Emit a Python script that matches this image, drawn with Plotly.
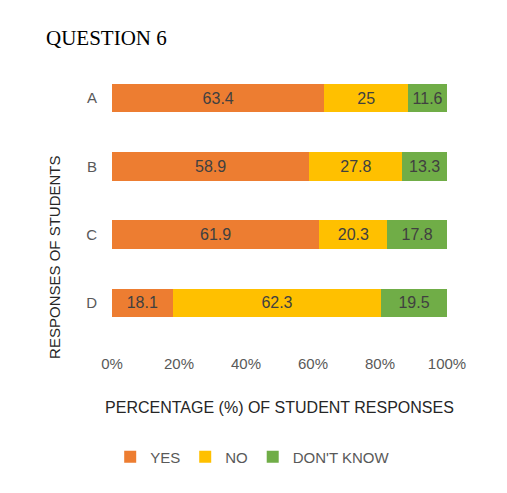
import plotly.graph_objects as go

categories = ["A", "B", "C", "D"]
yes_vals = [63.4, 58.9, 61.9, 18.1]
no_vals = [25, 27.8, 20.3, 62.3]
dk_vals = [11.6, 13.3, 17.8, 19.5]
x_ticks = [0, 20, 40, 60, 80, 100]
x_tick_labels = ["0%", "20%", "40%", "60%", "80%", "100%"]

series = [("YES", yes_vals, "#ED7D31"), ("NO", no_vals, "#FFC000"), ("DON'T KNOW", dk_vals, "#70AD47")]

fig = go.Figure()
for name, vals, col in series:
    fig.add_trace(go.Bar(
        y=categories, x=vals, name=name, orientation="h",
        marker=dict(color=col, line=dict(width=0)),
        text=[str(v) for v in vals], textposition="inside", insidetextanchor="middle",
        textfont=dict(color="#404040", size=16),
        width=0.42,
    ))

fig.update_layout(
    barmode="stack",
    width=507, height=493,
    paper_bgcolor="white", plot_bgcolor="white",
    margin=dict(l=104, r=68, t=56, b=164),
    title=dict(text="QUESTION 6", x=0.075, xanchor="left", y=0.94, yanchor="middle",
               font=dict(size=21, color="black", family="Liberation Serif, serif")),
    font=dict(family="Liberation Sans, sans-serif", color="#595959"),
    legend=dict(orientation="h", x=0.42, xanchor="center", y=-0.44, yanchor="middle",
                font=dict(size=15, color="#595959"), traceorder="normal",
                itemwidth=30, tracegroupgap=0),
    showlegend=True,
    annotations=[dict(text="RESPONSES OF STUDENTS", textangle=-90, showarrow=False,
                      xref="paper", yref="paper", x=-0.17, y=0.29,
                      xanchor="center", yanchor="middle",
                      font=dict(size=15, color="#262626"))],
)
fig.update_xaxes(range=[0, 100], tickvals=x_ticks, ticktext=x_tick_labels,
                 showgrid=False, zeroline=False, showline=False,
                 tickfont=dict(size=15, color="#595959"), ticklabelstandoff=16,
                 title=dict(text="PERCENTAGE (%) OF STUDENT RESPONSES", standoff=30,
                            font=dict(size=16, color="#262626")))
fig.update_yaxes(autorange="reversed", showgrid=False, showline=False,
                 tickfont=dict(size=15, color="#595959"), ticklabelstandoff=14)

fig.write_html("out.html")
